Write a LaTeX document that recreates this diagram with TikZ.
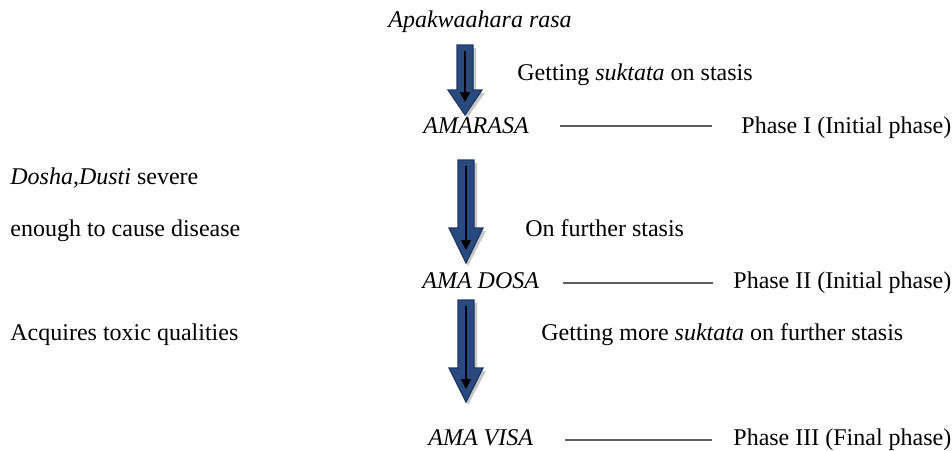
\documentclass[tikz,border=0pt]{standalone}
\usepackage{fontspec}
\setmainfont{Liberation Serif}
\usetikzlibrary{arrows.meta}
\definecolor{arrowblue}{HTML}{284A7E}
\definecolor{arrowedge}{HTML}{1F3763}
\definecolor{linegray}{HTML}{5F5F5F}
\newcommand\BArrow[4]{% cx, top, headstart, tip
  \fill[black!22] (#1-8+3,#2+3) -- (#1+8+3,#2+3) -- (#1+8+3,#3+3) -- (#1+17+3,#3+3) -- (#1+2,#4+3) -- (#1-17+3,#3+3) -- (#1-8+3,#3+3) -- cycle;
  \filldraw[fill=arrowblue,draw=arrowedge,line width=0.6pt] (#1-8,#2) -- (#1+8,#2) -- (#1+8,#3) -- (#1+17,#3) -- (#1,#4) -- (#1-17,#3) -- (#1-8,#3) -- cycle;
  \draw[black,line width=0.9pt,-{Triangle[length=5pt,width=5pt]}] (#1,#2+6) -- (#1,#4-13);
}
\tikzset{
  txt/.style={anchor=base west,inner sep=0pt,font=\fontsize{12pt}{14pt}\selectfont},
  phaseline/.style={draw=linegray,line width=0.65pt}
}
\begin{document}
\begin{tikzpicture}[x=0.5pt,y=-0.5pt]
\useasboundingbox (0,0) rectangle (952,450);
% arrows
\BArrow{465}{45}{90}{115}
\BArrow{466}{160}{228}{263}
\BArrow{466}{300}{368}{402}
% centre column
\node[txt] (apak) at (388,27) {\itshape Apakwaahara rasa};
\node[txt] (amarasa) at (423,133) {\itshape AMARASA};
\node[txt] (amadosa) at (422,288) {\itshape AMA DOSA};
\node[txt] (amavisa) at (428,445) {\itshape AMA VISA};
% right labels of arrows
\node[txt] (get1) at (517,80) {Getting \textit{suktata} on stasis};
\node[txt] (further) at (525,236) {On further stasis};
\node[txt] (get2) at (541,340) {Getting more \textit{suktata} on further stasis};
% phases
\node[txt] (ph1) at (741,133) {Phase I (Initial phase)};
\node[txt] (ph2) at (733,288) {Phase II (Initial phase)};
\node[txt] (ph3) at (733,445) {Phase III (Final phase)};
% left texts
\node[txt] (dosha) at (10,184) {\textit{Dosha,Dusti} severe};
\node[txt] (enough) at (10,236) {enough to cause disease};
\node[txt] (acq) at (10,340) {Acquires toxic qualities};
% connector lines
\coordinate (l1a) at (560,126); \coordinate (l1b) at (712,126);
\coordinate (l2a) at (563,283); \coordinate (l2b) at (713,283);
\coordinate (l3a) at (565,440); \coordinate (l3b) at (712,440);
\draw[phaseline] (l1a) -- (l1b);
\draw[phaseline] (l2a) -- (l2b);
\draw[phaseline] (l3a) -- (l3b);
\end{tikzpicture}
\end{document}
